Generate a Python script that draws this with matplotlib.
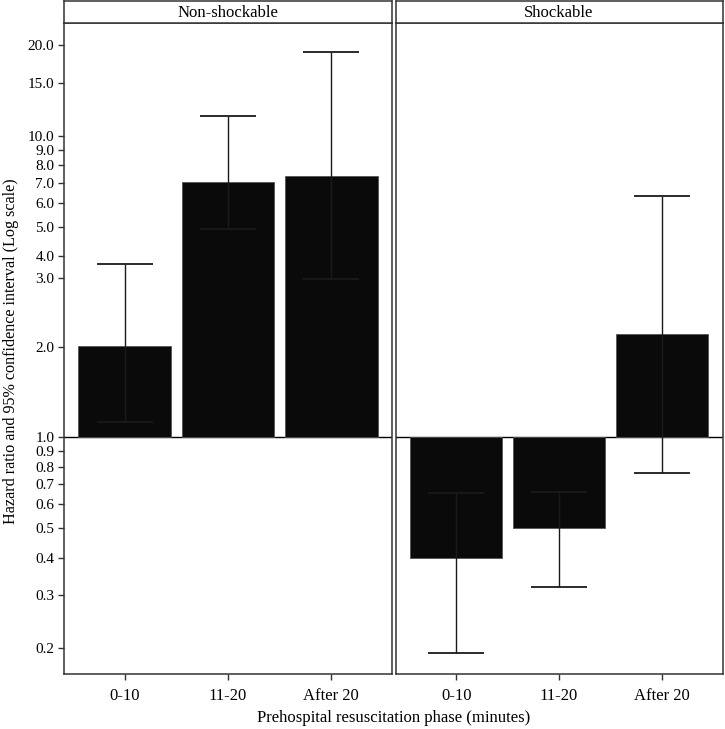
import matplotlib
matplotlib.use("Agg")
import matplotlib.pyplot as plt
import numpy as np

plt.rcParams['font.family'] = ['Liberation Serif', 'DejaVu Serif']

categories = ["0-10", "11-20", "After 20"]
panels = ["Non-shockable", "Shockable"]
hr = {
    "Non-shockable": [2.015, 7.03, 7.38],
    "Shockable": [0.398, 0.500, 2.198],
}
ci_low = {
    "Non-shockable": [1.123, 4.90, 3.345],
    "Shockable": [0.1935, 0.320, 0.763],
}
ci_high = {
    "Non-shockable": [3.77, 11.63, 18.95],
    "Shockable": [0.653, 0.658, 6.33],
}
ytick_pos = [0.2, 0.3, 0.4, 0.5, 0.6, 0.7, 0.8, 0.9, 1.0, 2.0, 3.38, 4.0, 5.0, 6.0, 7.0, 8.0, 9.0, 10.0, 15.0, 20.0]
ytick_labels = ["0.2", "0.3", "0.4", "0.5", "0.6", "0.7", "0.8", "0.9", "1.0", "2.0", "3.0", "4.0",
                "5.0", "6.0", "7.0", "8.0", "9.0", "10.0", "15.0", "20.0"]

W, H = 725, 729
fig = plt.figure(figsize=(W / 100, H / 100), dpi=100)

boxes = [(64, 392), (395.5, 722.5)]
top, bottom = 23, 674
strip_top = 1
edge = "#333333"
fs = 12

for i, (name, (x0, x1)) in enumerate(zip(panels, boxes)):
    ax = fig.add_axes([x0 / W, 1 - bottom / H, (x1 - x0) / W, (bottom - top) / H])
    x = np.arange(len(categories))
    vals = np.array(hr[name])
    lo = np.array(ci_low[name])
    hi = np.array(ci_high[name])
    ax.bar(x, vals - 1.0, bottom=1.0, width=0.9, color="#0a0a0a", edgecolor="#555555", linewidth=0.6, zorder=2)
    ax.errorbar(x, vals, yerr=[vals - lo, hi - vals], fmt="none", ecolor="#1a1a1a",
                elinewidth=1.0, capsize=20, capthick=1.3, zorder=3)
    ax.axhline(1.0, color="black", linewidth=1.0, zorder=1)
    ax.set_yscale("log")
    ax.set_ylim(0.1644, 23.65)
    ax.set_xlim(-0.59, 2.59)
    ax.set_xticks(x)
    ax.set_xticklabels(categories, fontsize=fs)
    ax.minorticks_off()
    ax.set_yticks(ytick_pos)
    if i == 0:
        ax.set_yticklabels(ytick_labels, fontsize=11)
        ax.tick_params(axis="y", length=4, width=1, color=edge, pad=3)
    else:
        ax.set_yticklabels([])
        ax.tick_params(axis="y", length=0)
    ax.tick_params(axis="x", length=4, width=1, color=edge, pad=6)
    for s in ax.spines.values():
        s.set_color(edge)
        s.set_linewidth(1.1)
    # strip
    sax = fig.add_axes([x0 / W, 1 - top / H, (x1 - x0) / W, (top - strip_top) / H])
    sax.set_xticks([])
    sax.set_yticks([])
    for s in sax.spines.values():
        s.set_color(edge)
        s.set_linewidth(1.1)
    sax.text(0.5, 0.45, name, ha="center", va="center", fontsize=fs, transform=sax.transAxes)

fig.text(393.5 / W, 1 - 718 / H, "Prehospital resuscitation phase (minutes)", ha="center", va="center", fontsize=fs)
fig.text(11 / W, 1 - 351 / H, "Hazard ratio and 95% confidence interval (Log scale)", ha="center", va="center",
         rotation=90, fontsize=11.6)

fig.savefig("out.png", dpi=100)
